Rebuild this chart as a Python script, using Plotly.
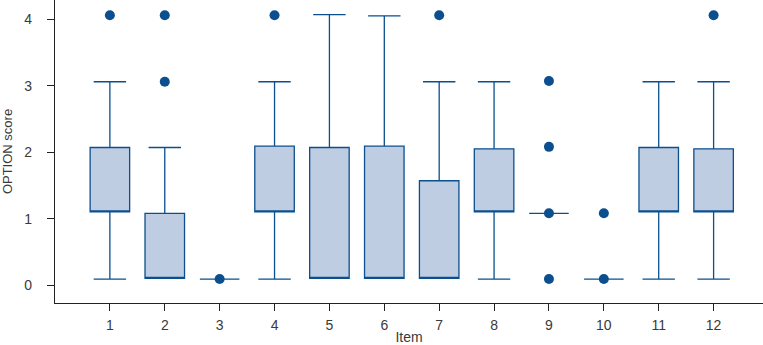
import plotly.graph_objects as go

items = list(range(1, 13))
item_labels = [str(i) for i in items]
q1 = [1.10, 0.10, 0.09, 1.10, 0.10, 0.10, 0.10, 1.10, 1.08, 0.09, 1.10, 1.10]
median = [1.10, 0.10, 0.09, 1.10, 0.10, 0.10, 0.10, 1.10, 1.08, 0.09, 1.10, 1.10]
q3 = [2.07, 1.08, 0.09, 2.09, 2.07, 2.09, 1.57, 2.05, 1.08, 0.09, 2.07, 2.05]
lower = [0.09, 0.10, 0.09, 0.09, 0.10, 0.10, 0.10, 0.09, 1.08, 0.09, 0.09, 0.09]
upper = [3.06, 2.07, 0.09, 3.06, 4.07, 4.05, 3.06, 3.06, 1.08, 0.09, 3.06, 3.06]
outlier_items = [1, 2, 2, 3, 4, 7, 9, 9, 9, 9, 10, 10, 12]
outlier_values = [4.06, 4.06, 3.06, 0.09, 4.06, 4.06, 0.09, 1.08, 2.08, 3.07, 0.09, 1.08, 4.06]

dark = "#0B4F8E"
fill = "#BFCDE2"

fig = go.Figure()
fig.add_trace(go.Box(
    x=items, q1=q1, median=median, q3=q3,
    lowerfence=lower, upperfence=upper,
    width=0.72, whiskerwidth=0.82,
    fillcolor=fill, line=dict(color=dark, width=1.3),
    boxpoints=False, showlegend=False, hoverinfo="skip",
))
fig.add_trace(go.Scatter(
    x=outlier_items, y=outlier_values, mode="markers",
    marker=dict(color=dark, size=10), showlegend=False, hoverinfo="skip",
))

font = dict(family="Liberation Sans, Arial, sans-serif", size=14, color="#3a3a3a")
fig.update_layout(
    width=763, height=345,
    margin=dict(l=55, r=0, t=0, b=42),
    paper_bgcolor="white", plot_bgcolor="white",
    font=font,
    xaxis=dict(
        range=[0.0, 12.9], tickvals=items, ticktext=item_labels,
        showline=True, linecolor="#222222", linewidth=1.3,
        ticks="outside", ticklen=7, tickcolor="#222222", tickwidth=1.3,
        showgrid=False, zeroline=False, ticklabelstandoff=2,
        title=dict(text="Item", standoff=0, font=dict(size=14, color="#3a3a3a")),
    ),
    yaxis=dict(
        range=[-0.27, 4.29], tickvals=[0, 1, 2, 3, 4],
        showline=True, linecolor="#222222", linewidth=1.3,
        ticks="outside", ticklen=7, tickcolor="#222222", tickwidth=1.3,
        showgrid=False, zeroline=False, ticklabelstandoff=12,
        title=dict(text="OPTION score", standoff=10, font=dict(size=13, color="#3a3a3a")),
    ),
)
fig.write_html("out.html", config={"displayModeBar": False},
               post_script="document.body.style.margin='0';")
